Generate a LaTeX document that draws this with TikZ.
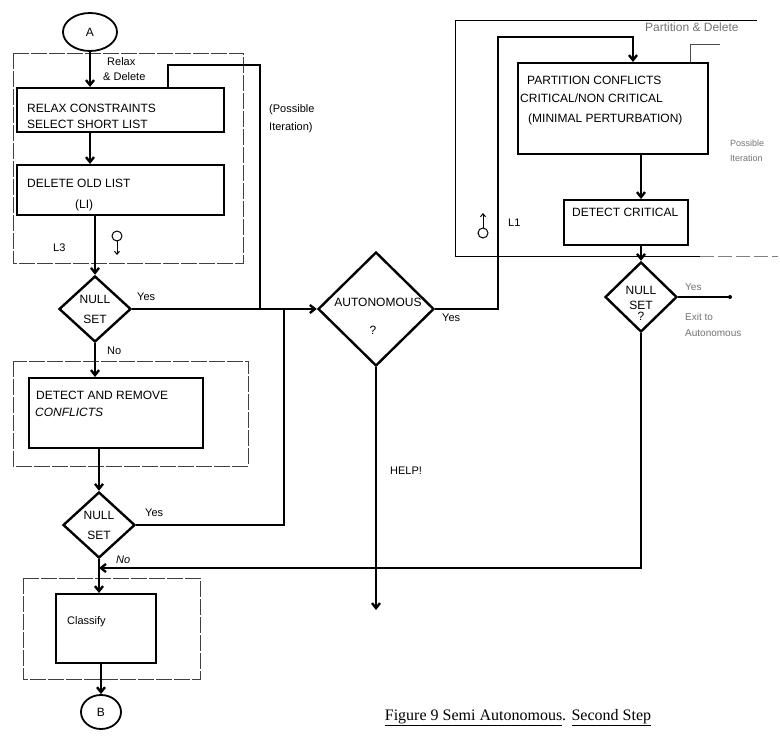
\documentclass[tikz,border=0pt]{standalone}
\usepackage{fontspec}
\setmainfont{Liberation Sans}
\newfontfamily\capfont{Liberation Serif}
\usetikzlibrary{shapes.geometric,arrows.meta,calc}
\begin{document}
\begin{tikzpicture}[x=1pt,y=-1pt,
  every node/.style={font=\fontsize{12}{14}\selectfont, inner sep=0pt},
  procbox/.style={draw, line width=2pt, inner sep=0pt},
  groupbox/.style={draw=black!75, line width=0.7pt, dash pattern=on 16pt off 2pt},
  decision/.style={diamond, draw, line width=2.4pt, inner sep=0pt, minimum width=72pt, minimum height=66pt},
  term/.style={ellipse, draw, line width=1.8pt, inner sep=0pt},
  txt/.style={anchor=base west},
  lbl/.style={anchor=base west, font=\fontsize{11}{13}\selectfont},
  faint/.style={anchor=base west, text=black!55, font=\fontsize{10}{12}\selectfont},
  flow/.style={line width=2.4pt},
  thinflow/.style={line width=1.3pt},
  arr/.style={-{Straight Barb[length=5pt,width=8pt]}},
  sym/.style={line width=1pt}
]
\useasboundingbox (0,0) rectangle (780,743);

% ---- group boxes ----
\draw[groupbox] (13,53) rectangle (243,263);
\draw[groupbox] (13,361) rectangle (248,466);
\draw[groupbox] (23,578) rectangle (200,679);
\draw[line width=0.8pt] (757,20) -- (455,20) -- (455,256) -- (700,256);
\draw[line width=0.7pt, black!50, dash pattern=on 14pt off 4pt] (700,256) -- (778,256);

% ---- terminals ----
\node[term, minimum width=54pt, minimum height=38pt] (A) at (90,32) {A};
\node[term, minimum width=40pt, minimum height=34pt] (B) at (101,712) {B};

% ---- process boxes ----
\node[procbox, minimum width=207pt, minimum height=44pt] (relax) at (120.5,110) {};
\node[procbox, minimum width=207pt, minimum height=50pt] (delete) at (120.5,190) {};
\node[procbox, minimum width=174pt, minimum height=70pt] (detrem) at (116,413) {};
\node[procbox, minimum width=100pt, minimum height=69pt] (classify) at (106,628.5) {};
\node[procbox, minimum width=190pt, minimum height=91pt] (partition) at (613,108.5) {};
\node[procbox, minimum width=124pt, minimum height=45pt] (detcrit) at (626,222.5) {};

\node[txt] (t1) at (27,113) {RELAX CONSTRAINTS};
\node[txt] (t2) at (27,129) {SELECT SHORT LIST};
\node[txt] (t3) at (27,188) {DELETE OLD LIST};
\node[txt] (t4) at (75,209) {(LI)};
\node[txt] (t5) at (36,400) {DETECT AND REMOVE};
\node[txt] (t6) at (35,417) {\itshape CONFLICTS};
\node[txt, font=\fontsize{11}{13}\selectfont] (t7) at (67,624) {Classify};
\node[txt] (t8) at (527,85) {PARTITION CONFLICTS};
\node[txt] (t9) at (520,103) {CRITICAL/NON CRITICAL};
\node[txt] (t10) at (528,123) {(MINIMAL PERTURBATION)};
\node[txt] (t11) at (572,217) {DETECT CRITICAL};

% ---- decisions ----
\node[decision] (ns1) at (95,309) {};
\node[decision] (ns2) at (99,525) {};
\node[decision, minimum height=70pt] (ns3) at (641,297) {};
\node[decision, minimum width=116pt, minimum height=114pt] (auto) at (376,309) {};

\node[align=center, font=\fontsize{12}{20}\selectfont] (ns1t) at (ns1) {NULL\\SET};
\node[align=center, font=\fontsize{12}{20}\selectfont] (ns2t) at (ns2) {NULL\\SET};
\node (ns3a) at (641,290) {NULL};
\node (ns3b) at (641,305) {SET};
\node (ns3c) at (641,316) {?};
\node (autot) at (378,302) {AUTONOMOUS};
\node (autoq) at (373,330) {?};

% ---- labels ----
\node[lbl] (l1) at (107,66) {Relax};
\node[lbl] (l2) at (103,81) {\& Delete};
\node[lbl] (l3) at (269,113) {(Possible};
\node[lbl] (l4) at (269,131) {Iteration)};
\node[lbl] (l5) at (53,252) {L3};
\node[lbl] (y1) at (137,301) {Yes};
\node[lbl] (n1) at (107,355) {No};
\node[lbl] (y2) at (145,517) {Yes};
\node[lbl] (n2) at (116,563) {\itshape No};
\node[lbl] (y3) at (442,322) {Yes};
\node[lbl] (help) at (390,475) {HELP!};
\node[lbl] (l6) at (508,227) {L1};
\node[faint, font=\fontsize{12}{14}\selectfont] (pd) at (645,32) {Partition \& Delete};
\node[faint, font=\fontsize{9}{11}\selectfont] (pi1) at (730,147) {Possible};
\node[faint, font=\fontsize{9}{11}\selectfont] (pi2) at (730,162) {Iteration};
\node[faint] (y4) at (685,291) {Yes};
\node[faint] (ex1) at (685,321) {Exit to};
\node[faint] (ex2) at (685,337) {Autonomous};

% ---- coordinates ----
\coordinate (j1) at (260,309);
\coordinate (lp) at (168,65);
\coordinate (j2) at (284,309);
\coordinate (t1c) at (498,37);
\coordinate (t2c) at (633,37);
\coordinate (helpend) at (376,610);
\coordinate (exitpt) at (730,297);
\coordinate (j3) at (99,568);
\coordinate (brA) at (690,44);
\coordinate (brB) at (720,44);

% ---- connectors ----
\draw[flow,arr] (A.south) -- (A.south |- relax.north);
\draw[flow,arr] (relax.south -| A) -- (delete.north -| A);
\draw[flow,arr] (delete.south -| ns1) -- (ns1.north);
\draw[flow,arr] (ns1.east) -- (auto.west);
\draw[thinflow] (j1) |- (lp) -- (lp |- relax.north);
\draw[flow,arr] (ns1.south) -- (ns1.south |- detrem.north);
\draw[flow,arr] (detrem.south -| ns2) -- (ns2.north);
\draw[flow] (ns2.east) -| (j2);
\draw[flow,arr] (ns2.south) -- (ns2.south |- classify.north);
\draw[flow,arr] (classify.south -| B) -- (B.north);
\draw[flow,arr] (auto.east) -| (t1c) -- (t2c) -- (t2c |- partition.north);
\draw[flow,arr] (auto.south) -- (helpend);
\draw[flow,arr] (partition.south -| ns3) -- (detcrit.north -| ns3);
\draw[flow,arr] (detcrit.south -| ns3) -- (ns3.north);
\draw[flow] (ns3.east) -- (exitpt);
\fill (exitpt) circle (2pt);
\draw[flow,arr] (ns3.south) |- (j3);
\draw[line width=0.8pt, black!70] (partition.north -| brA) -- (brA) -- (brB);

% ---- small symbols ----
\draw[sym] (117,236) circle (5pt);
\draw[sym,-{Straight Barb[length=3pt,width=5pt]}] (117,241) -- (117,255);
\draw[sym] (483,233) circle (5pt);
\draw[sym,-{Straight Barb[length=3pt,width=5pt]}] (483,228) -- (483,213);

% ---- caption ----
\node[font=\capfont\fontsize{16}{18}\selectfont] (cap) at (518,718) {\underline{Figure 9 Semi Autonomous}. \underline{Second Step}};
\end{tikzpicture}
\end{document}
